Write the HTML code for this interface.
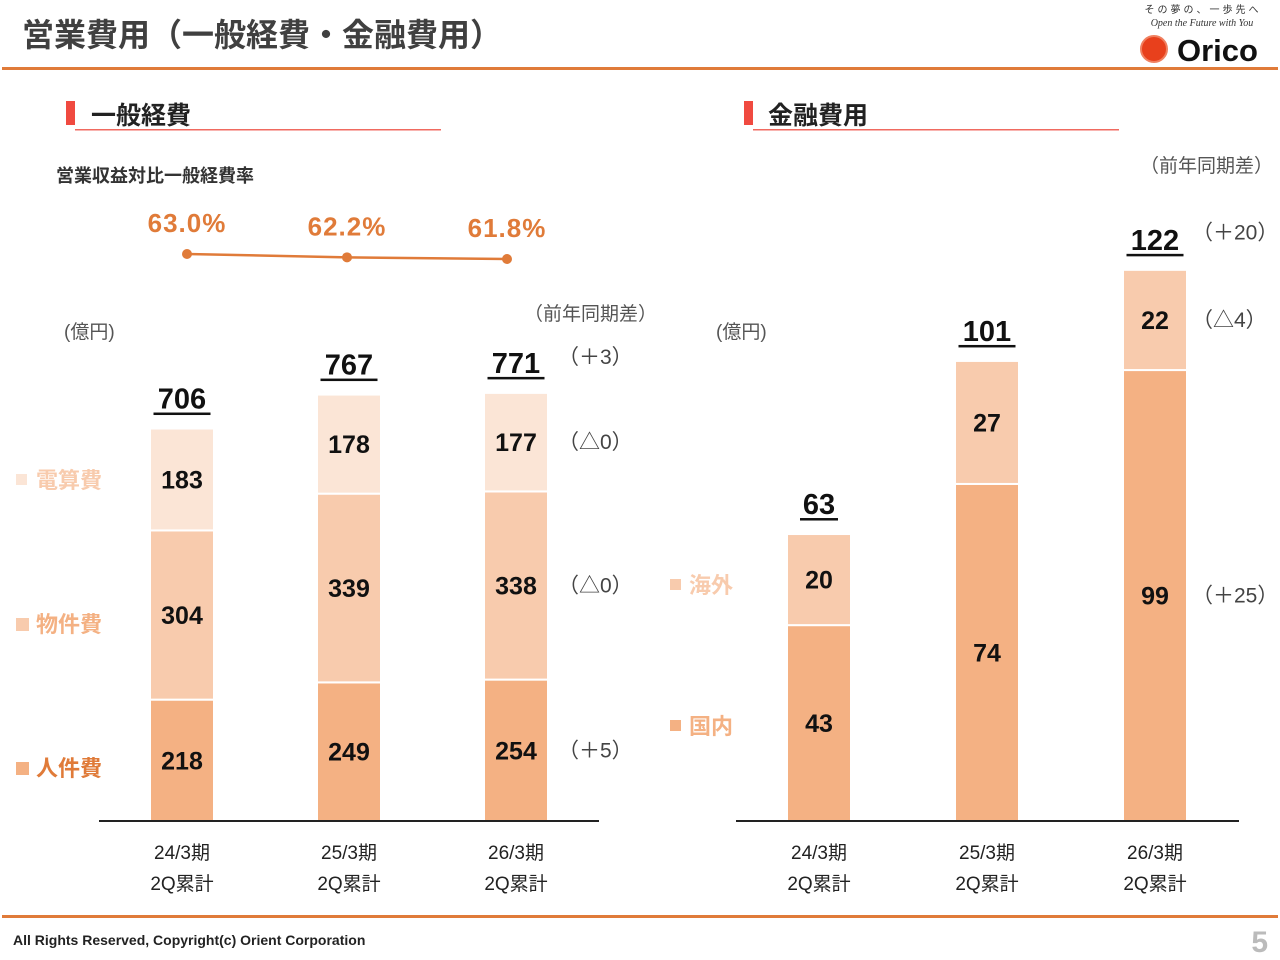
<!DOCTYPE html>
<html><head><meta charset="utf-8"><style>
body{margin:0;background:#fff;}
svg{display:block;font-family:"Liberation Sans","Noto Sans CJK JP",sans-serif;}
</style></head><body>
<svg id="s" width="1280" height="960" viewBox="0 0 1280 960" xmlns="http://www.w3.org/2000/svg">
<text x="22" y="46" font-size="32" font-weight="bold" fill="#404040">営業費用（一般経費・金融費用）</text>
<rect x="2" y="67" width="1276" height="3" fill="#e07b39"/>
<g>
<text x="1203" y="13" font-size="10" text-anchor="middle" fill="#333" letter-spacing="3">その夢の、一歩先へ</text>
<text x="1202" y="26" font-size="10" font-style="italic" font-family="Liberation Serif,serif" text-anchor="middle" fill="#333">Open the Future with You</text>
<circle cx="1154" cy="49" r="13" fill="#e8401c" stroke="#f08060" stroke-width="2"/>
<text x="1177" y="61" font-size="31" font-weight="bold" fill="#111">Orico</text>
</g>
<rect x="66" y="101" width="9" height="24" fill="#f04a40"/>
<text x="91" y="124" font-size="25" font-weight="bold" fill="#222">一般経費</text>
<rect x="75" y="129" width="366" height="1.5" fill="#f06a60"/>
<rect x="744" y="101" width="9" height="24" fill="#f04a40"/>
<text x="768" y="124" font-size="25" font-weight="bold" fill="#222">金融費用</text>
<rect x="753" y="129" width="366" height="1.5" fill="#f06a60"/>
<text x="56" y="182" font-size="18" font-weight="bold" fill="#333">営業収益対比一般経費率</text>
<text x="64" y="338" font-size="19" fill="#555">(億円)</text>
<text x="716" y="338" font-size="19" fill="#555">(億円)</text>
<text x="524" y="320" font-size="19" fill="#555">（前年同期差）</text>
<text x="1140" y="172" font-size="19" fill="#555">（前年同期差）</text>
<rect x="16" y="474" width="11" height="11" fill="#fbe5d6"/>
<text x="36" y="488" font-size="22" font-weight="bold" fill="#f8cbad">電算費</text>
<rect x="16" y="618" width="13" height="13" fill="#f8cbad"/>
<text x="36" y="632" font-size="22" font-weight="bold" fill="#f4b183">物件費</text>
<rect x="16" y="762" width="13" height="13" fill="#f4b183"/>
<text x="36" y="776" font-size="22" font-weight="bold" fill="#e07b39">人件費</text>
<rect x="670" y="579" width="11" height="11" fill="#f8cbad"/>
<text x="689" y="593" font-size="22" font-weight="bold" fill="#f8cbad">海外</text>
<rect x="670" y="720" width="11" height="11" fill="#f4b183"/>
<text x="689" y="734" font-size="22" font-weight="bold" fill="#f4b183">国内</text>
<g id="g"></g>
<rect x="2" y="915" width="1276" height="3" fill="#e07b39"/>
<text x="13" y="945" font-size="14" font-weight="bold" fill="#222">All Rights Reserved, Copyright(c) Orient Corporation</text>
<text x="1268" y="952" font-size="30" font-weight="bold" fill="#bbb" text-anchor="end">5</text>
</svg>
<script>
const leftCats=["24/3期","25/3期","26/3期"];
const personnel=[218,249,254];
const property=[304,339,338];
const computing=[183,178,177];
const leftTotals=[706,767,771];
const leftYoY=["（＋5）","（△0）","（△0）","（＋3）"];
const ratios=[63.0,62.2,61.8];
const ratioLabels=["63.0%","62.2%","61.8%"];
const domestic=[43,74,99];
const overseas=[20,27,22];
const rightTotals=[63,101,122];
const rightYoY=["（＋25）","（△4）","（＋20）"];
const NS="http://www.w3.org/2000/svg",g=document.getElementById('g');
function mk(t,a,txt){const e=document.createElementNS(NS,t);for(const k in a)e.setAttribute(k,a[k]);if(txt!=null)e.textContent=txt;g.appendChild(e);return e;}
const base=821,bw=64;
const yL=v=>base-v*0.5567, yR=v=>base-v*4.555;
const xL=i=>182+i*167, xR=i=>819+i*168;
function bars(xf,yf,series,colors,names,totals,pre){
 series[0].forEach((_,i)=>{let acc=0;const cx=xf(i);
  series.forEach((s,k)=>{const y0=yf(acc),y1=yf(acc+s[i]);
   const r=mk('rect',{x:cx-bw/2,y:y1,width:bw,height:y0-y1,fill:colors[k],stroke:'#fff','stroke-width':2});
   
   
   const t=mk('text',{x:cx,y:(y0+y1)/2+9,'font-size':25,'font-weight':'bold','text-anchor':'middle',fill:'#111'},s[i]);
   
   
   acc+=s[i];});
  const t=mk('text',{x:cx,y:yf(acc)-20,'font-size':29,'font-weight':'bold','text-anchor':'middle',fill:'#111'},totals[i]);
  
  
  const w=String(totals[i]).length*19;
  const u=mk('rect',{x:cx-w/2,y:yf(acc)-16,width:w,height:2.5,fill:'#111'});
  
  
  const c1=mk('text',{x:cx,y:859,'font-size':19,'text-anchor':'middle',fill:'#222'},leftCats[i]);
  
  
  const c2=mk('text',{x:cx,y:890,'font-size':19,'text-anchor':'middle',fill:'#222'},'2Q累計');
  
  
 });
}
bars(xL,yL,[personnel,property,computing],['#f4b183','#f8cbad','#fbe5d6'],['personnel','property','computing'],leftTotals,'left');
bars(xR,yR,[domestic,overseas],['#f4b183','#f8cbad'],['domestic','overseas'],rightTotals,'right');
let a=mk('line',{x1:99,y1:base,x2:599,y2:base,stroke:'#222','stroke-width':2});

a=mk('line',{x1:736,y1:base,x2:1239,y2:base,stroke:'#222','stroke-width':2});

const lx=558;
[yL(personnel[2]/2)+7,yL(personnel[2]+property[2]/2)+7,yL(personnel[2]+property[2]+computing[2]/2)+7,yL(leftTotals[2])-28].forEach((y,k)=>{
 const t=mk('text',{x:lx,y:y,'font-size':21,fill:'#444'},leftYoY[k]);
 });
[yR(domestic[2]/2)+7,yR(domestic[2]+overseas[2]/2)+7,yR(rightTotals[2])-26].forEach((y,k)=>{
 const t=mk('text',{x:1192,y:y,'font-size':21,fill:'#444'},rightYoY[k]);
 });
const rx=i=>187+i*160, ry=v=>254+(63.0-v)*4.17;
const pl=mk('polyline',{points:ratios.map((v,i)=>rx(i)+','+ry(v)).join(' '),fill:'none',stroke:'#e07b39','stroke-width':2.5});

ratios.forEach((v,i)=>{
 const c=mk('circle',{cx:rx(i),cy:ry(v),r:5,fill:'#e07b39'});
 
 const t=mk('text',{x:rx(i),y:ry(v)-22,'font-size':26,'font-weight':'bold','text-anchor':'middle',fill:'#e07b39','letter-spacing':1},ratioLabels[i]);
 
});
</script>
</body></html>
